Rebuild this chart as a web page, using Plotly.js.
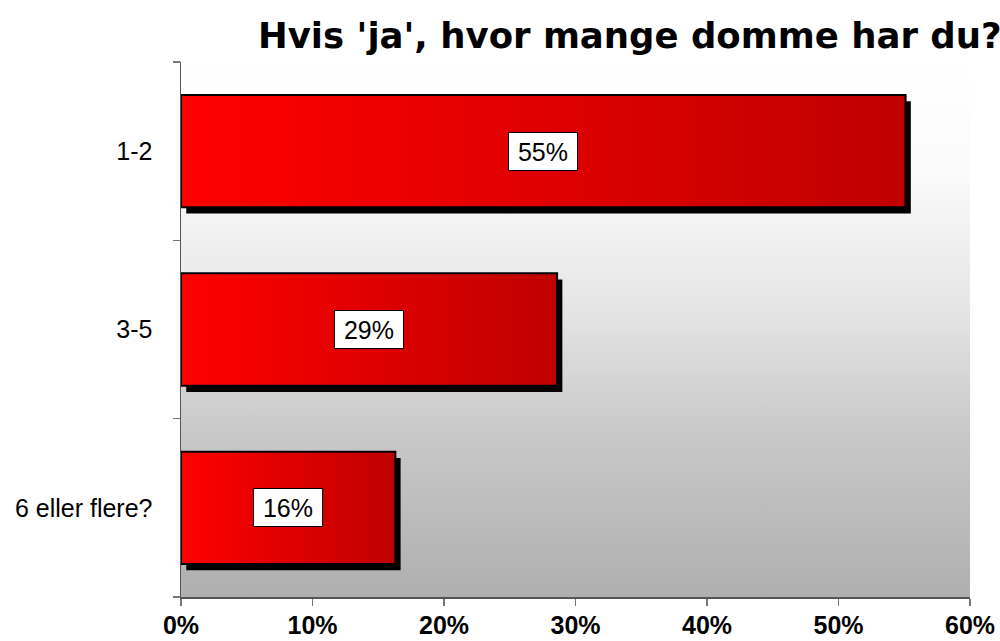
<!DOCTYPE html>
<html>
<head>
<meta charset="utf-8">
<script src="https://cdn.plot.ly/plotly-3.0.1.min.js"></script>
<style>
  html, body { margin: 0; padding: 0; background: #fff; }
  #chart { width: 1000px; height: 641px; }
</style>
</head>
<body>
<div id="chart"></div>
<script>
// answers and shares (percent)
var categories = ['1-2', '3-5', '6 eller flere?'];
var shares = [55.1, 28.6, 16.3];
var shareLabels = ['55%', '29%', '16%'];
var xTicks = [0, 10, 20, 30, 40, 50, 60];

var halfBar = 0.315;     // half bar thickness, category units
var shadowDx = 0.4;      // shadow offset in % units
var shadowDy = 0.035;    // shadow offset in category units

var traces = [];

// plot area background, white on top fading to grey
traces.push({
  x: [0, 60, 60, 0, 0],
  y: [-0.5, -0.5, 2.5, 2.5, -0.5],
  type: 'scatter', mode: 'lines', fill: 'toself',
  line: {width: 0},
  fillgradient: {
    type: 'vertical',
    colorscale: [[0, '#afafaf'], [0.3, '#c8c8c8'], [0.55, '#e6e6e6'], [0.8, '#fbfbfb'], [1, '#ffffff']]
  },
  hoverinfo: 'skip'
});

// shadows
shares.forEach(function (v, i) {
  traces.push({
    x: [shadowDx, v + shadowDx, v + shadowDx, shadowDx, shadowDx],
    y: [i - halfBar + shadowDy, i - halfBar + shadowDy, i + halfBar + shadowDy, i + halfBar + shadowDy, i - halfBar + shadowDy],
    type: 'scatter', mode: 'lines', fill: 'toself',
    fillcolor: '#000000', line: {width: 0},
    hoverinfo: 'skip'
  });
});

// bars with a left-to-right red gradient
shares.forEach(function (v, i) {
  traces.push({
    x: [0, v, v, 0, 0],
    y: [i - halfBar, i - halfBar, i + halfBar, i + halfBar, i - halfBar],
    type: 'scatter', mode: 'lines', fill: 'toself',
    line: {color: '#000000', width: 2},
    fillgradient: {
      type: 'horizontal',
      colorscale: [[0, '#ff0000'], [1, '#bf0000']]
    },
    hoverinfo: 'skip'
  });
});

var labels = shares.map(function (v, i) {
  return {
    x: v / 2, y: i, xref: 'x', yref: 'y',
    text: shareLabels[i], showarrow: false,
    font: {family: 'Liberation Sans, Arial, sans-serif', size: 25, color: '#000'},
    width: 60, height: 29,
    bgcolor: '#ffffff', bordercolor: '#000000', borderwidth: 1, borderpad: 4
  };
});

var layout = {
  width: 1000, height: 641,
  margin: {l: 181, r: 30, t: 62, b: 44},
  paper_bgcolor: '#ffffff',
  plot_bgcolor: '#ffffff',
  showlegend: false,
  hovermode: false,
  title: {
    text: "<b>Hvis 'ja', hvor mange domme har du?</b>",
    font: {family: 'DejaVu Sans, sans-serif', size: 35.5, color: '#000'},
    x: 0.258, xanchor: 'left', xref: 'container',
    y: 0.945, yanchor: 'middle', yref: 'container'
  },
  xaxis: {
    range: [0, 60],
    tickvals: xTicks,
    ticktext: xTicks.map(function (t) { return '<b>' + t + '%</b>'; }),
    tickfont: {family: 'Liberation Sans, Arial, sans-serif', size: 25, color: '#000'},
    ticks: 'outside', ticklen: 7, tickcolor: '#777', tickwidth: 1.5,
    ticklabelstandoff: -2,
    showline: true, linecolor: '#555', linewidth: 1.5,
    showgrid: false, zeroline: false
  },
  yaxis: {
    range: [2.5, -0.5],
    tickvals: [0, 1, 2],
    ticktext: categories,
    tickfont: {family: 'Liberation Sans, Arial, sans-serif', size: 25, color: '#000'},
    ticks: '',
    ticklabelstandoff: 22,
    minor: {tick0: 0.5, dtick: 1, ticks: 'outside', ticklen: 7, tickcolor: '#777', tickwidth: 1.5, showgrid: false},
    showline: true, linecolor: '#555', linewidth: 1.5,
    showgrid: false, zeroline: false
  },
  annotations: labels
};

Plotly.newPlot('chart', traces, layout, {displayModeBar: false, staticPlot: true});
</script>
</body>
</html>
